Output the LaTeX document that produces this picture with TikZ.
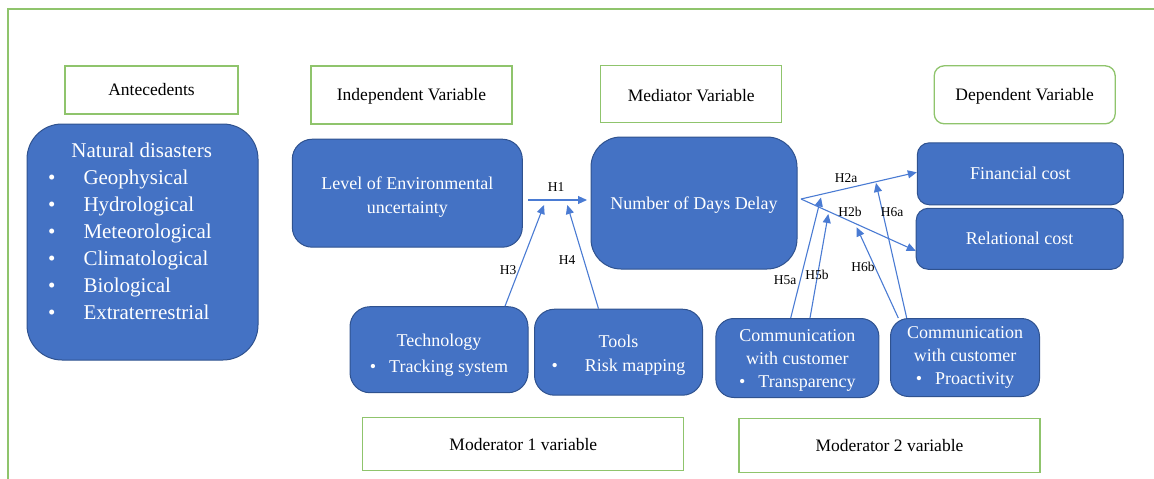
\documentclass[tikz,border=0pt]{standalone}
\usepackage{fontspec}
\setmainfont{Liberation Serif}
\usepackage{tikz}
\usetikzlibrary{calc,arrows.meta}
\definecolor{vert_clair}{HTML}{8FC46C}
\definecolor{bleu_boite}{HTML}{4472C4}
\definecolor{bleu_bord}{HTML}{2F528F}
\definecolor{bleu_fleche}{HTML}{4A7BD3}

\tikzset{
  titre/.style={draw=vert_clair, line width=1.3pt, fill=white, inner sep=0pt, font=\fontsize{17.5}{21}\selectfont},
  boite/.style={draw=bleu_bord, line width=1pt, fill=bleu_boite, text=white, align=center, inner sep=0pt, font=\fontsize{18}{24}\selectfont},
  hyp/.style={bleu_fleche, line width=1.1pt, -{Triangle[length=9pt,width=8pt]}},
  hlabel/.style={font=\fontsize{13.5}{16}\selectfont, inner sep=0pt},
  liste/.style={text=white, font=\fontsize{21}{25}\selectfont, inner sep=0pt}
}

\begin{document}
\begin{tikzpicture}[x=1pt,y=-1pt]
    \useasboundingbox (0,0) rectangle (1154,479);

    % Cadre vert (bords gauche et haut)
    \draw[vert_clair, line width=1.5pt] (8,479) -- (8,9) -- (1154,9);

    % Titres des colonnes
    \node[titre, minimum width=173pt, minimum height=48pt] (ante) at (151.5,90) {Antecedents};
    \node[titre, minimum width=201pt, minimum height=58pt] (indep) at (411.5,95) {\rule{0pt}{15pt}Independent Variable};
    \node[titre, minimum width=181pt, minimum height=57pt] (medi) at (691.2,94.2) {\rule{0pt}{15pt}Mediator Variable};
    \node[titre, minimum width=181pt, minimum height=58pt, rounded corners=10pt] (depen) at (1024.7,94.8) {\rule{0pt}{15pt}Dependent Variable};
    \node[titre, minimum width=321pt, minimum height=53pt] (mod1) at (523.3,444.3) {Moderator 1 variable};
    \node[titre, minimum width=301pt, minimum height=54pt] (mod2) at (889.5,445.5) {Moderator 2 variable};

    % Antecedents : catastrophes naturelles
    \node[boite, minimum width=231pt, minimum height=236pt, rounded corners=35pt] (nat) at (142.5,242) {};
    \node[liste, anchor=base] (nattitre) at (141.7,157) {Natural disasters};
    \foreach \t [count=\i] in {Geophysical,Hydrological,Meteorological,Climatological,Biological,Extraterrestrial}{
        \node[liste, anchor=base] (puce\i) at (51.7,{157+27*\i}) {\textbullet};
        \node[liste, anchor=base west] (nat\i) at (83.3,{157+27*\i}) {\t};
    }

    % Variables indépendante, médiatrice et dépendantes
    \node[boite, minimum width=230pt, minimum height=108pt, rounded corners=20pt] (level) at (407.3,193.2) {\rule{0pt}{20pt}Level of Environmental\\uncertainty};
    \node[boite, minimum width=206pt, minimum height=132pt, rounded corners=30pt] (delay) at (694,203) {\rule{0pt}{16.5pt}Number of Days Delay};
    \node[boite, minimum width=206pt, minimum height=62pt, rounded corners=12pt] (fin) at (1020.3,173.8) {Financial cost};
    \node[boite, minimum width=207pt, minimum height=61pt, rounded corners=12pt] (rel) at (1019.7,238.8) {Relational cost};

    % Modérateurs
    \node[boite, minimum width=178pt, minimum height=86pt, rounded corners=20pt, font=\fontsize{18}{26}\selectfont] (tech) at (439,349.7) {\rule{0pt}{24pt}Technology\\\textbullet\hspace{13pt}Tracking system};
    \node[boite, minimum width=168pt, minimum height=86pt, rounded corners=20pt] (tools) at (618.5,352.2) {\rule{0pt}{18pt}Tools\\\textbullet\hspace{27pt}Risk mapping};
    \node[boite, minimum width=163pt, minimum height=79pt, rounded corners=18pt, font=\fontsize{18}{23}\selectfont] (comm1) at (797.4,358) {\rule{0pt}{16.5pt}Communication\\with customer\\\textbullet\hspace{13pt}Transparency};
    \node[boite, minimum width=149pt, minimum height=78pt, rounded corners=18pt, font=\fontsize{18}{23}\selectfont] (comm2) at (965,357.5) {Communication\\with customer\\\textbullet\hspace{13pt}Proactivity};

    % Extrémités libres des flèches
    \coordinate (h1d) at (528,200);
    \coordinate (h1f) at (587,200);
    \coordinate (h2d) at (801,199);
    \coordinate (h3f) at (544,205);
    \coordinate (h4f) at (567.3,205);
    \coordinate (h5af) at (821,197.5);
    \coordinate (h5bf) at (828.3,214);
    \coordinate (h6af) at (876,183);
    \coordinate (h6bf) at (856.7,227.3);

    % Hypothèses
    \draw[hyp] (h1d) -- (h1f);
    \draw[hyp] (h2d) -- ($(fin.west)+(0,-1.5)$);
    \draw[hyp] (h2d) -- ($(rel.west)+(0,12)$);
    \draw[hyp] ($(tech.north)+(66,0)$) -- (h3f);
    \draw[hyp] ($(tools.north)+(-20,0)$) -- (h4f);
    \draw[hyp] ($(comm1.north)+(-6.7,0)$) -- (h5af);
    \draw[hyp] ($(comm1.north)+(12.6,0)$) -- (h5bf);
    \draw[hyp] ($(comm2.north)+(-58.3,0)$) -- (h6af);
    \draw[hyp] ($(comm2.north)+(-66.7,0)$) -- (h6bf);

    % Étiquettes des hypothèses
    \node[hlabel] (lh1) at (556,187) {H1};
    \node[hlabel] (lh2a) at (846,178) {H2a};
    \node[hlabel] (lh2b) at (850,212) {H2b};
    \node[hlabel] (lh3) at (508,270) {H3};
    \node[hlabel] (lh4) at (567,260) {H4};
    \node[hlabel] (lh5a) at (785,280) {H5a};
    \node[hlabel] (lh5b) at (817,275) {H5b};
    \node[hlabel] (lh6a) at (892,212) {H6a};
    \node[hlabel] (lh6b) at (863,267) {H6b};
\end{tikzpicture}
\end{document}
